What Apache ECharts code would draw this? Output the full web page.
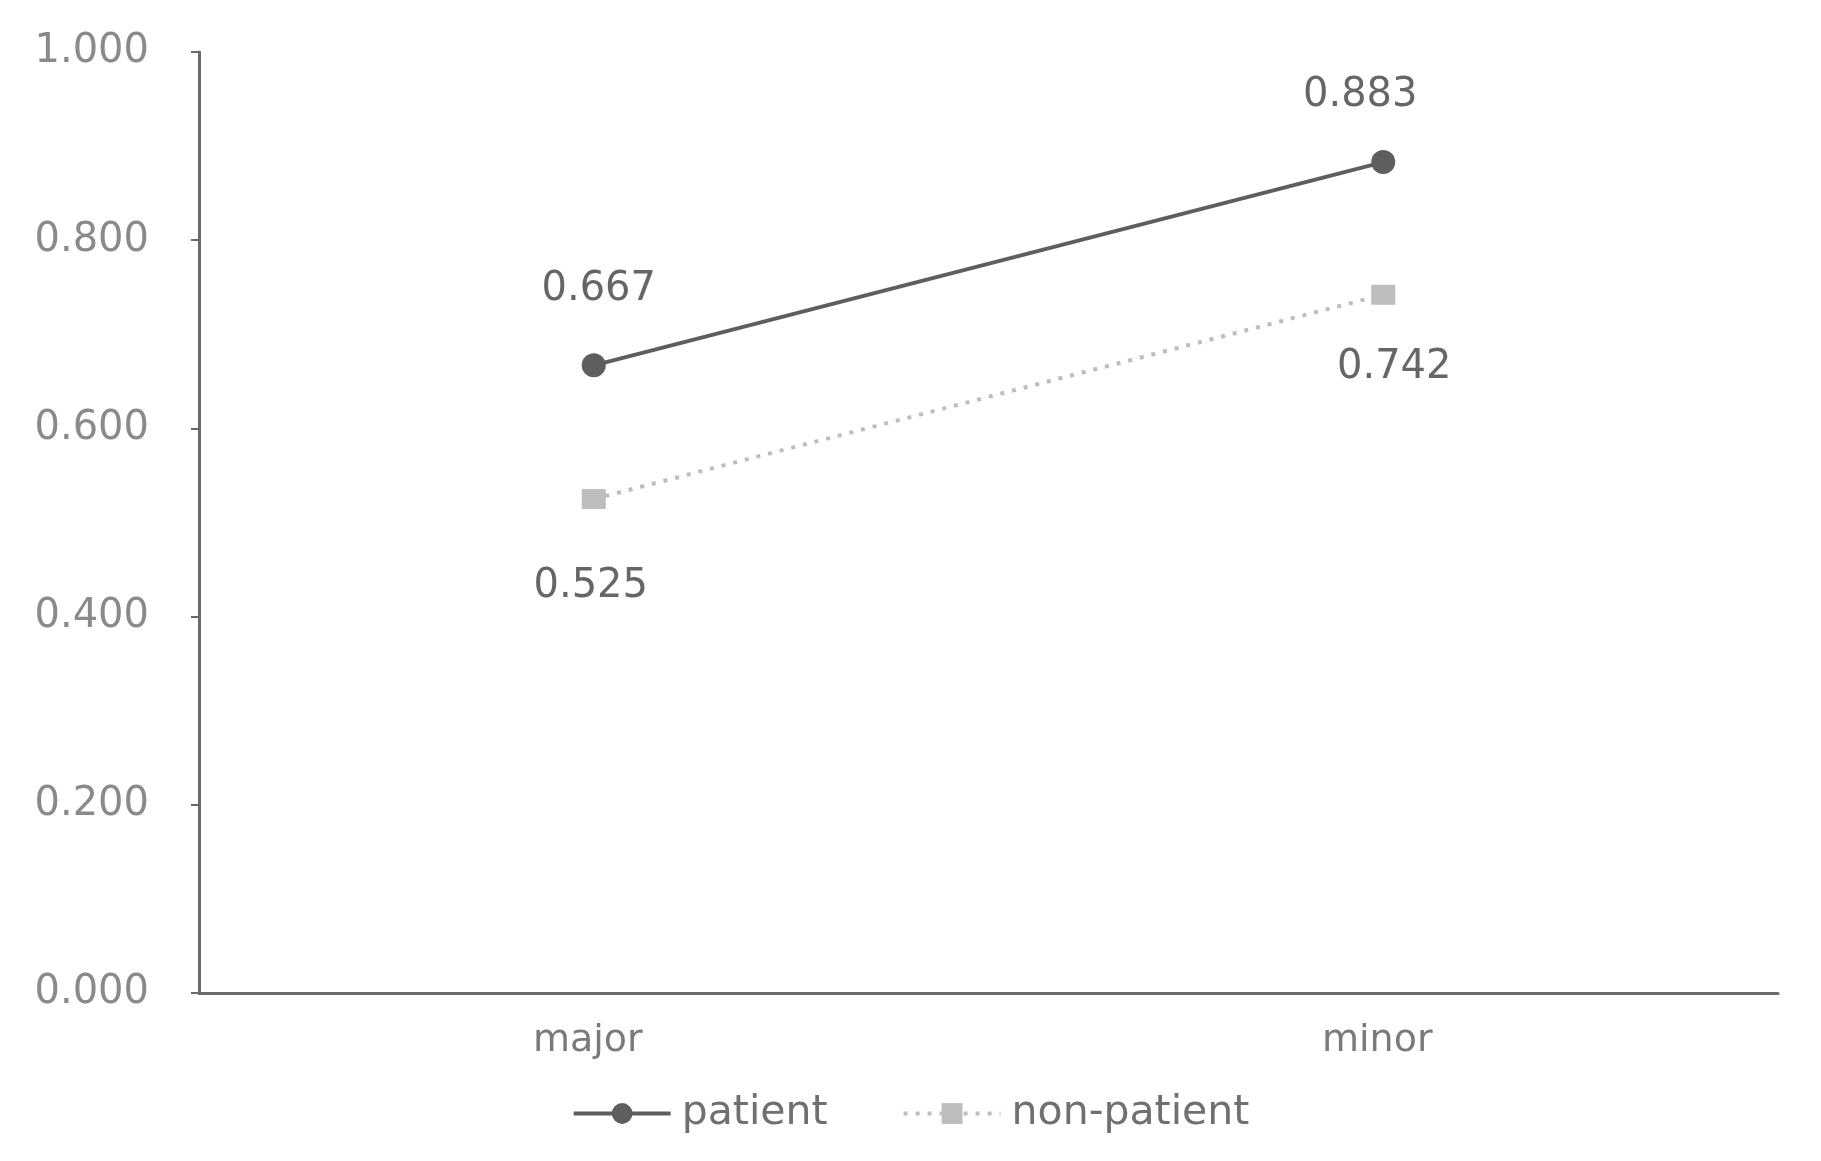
<!DOCTYPE html>
<html><head><meta charset="utf-8">
<script src="https://cdn.jsdelivr.net/npm/echarts@6/dist/echarts.min.js"></script>
<style>html,body{margin:0;padding:0;background:#fff}#c{width:1821px;height:1161px}</style>
</head><body><div id="c"></div>
<script>
const categories = ['major', 'minor'];
const patient = [0.667, 0.883];
const nonPatient = [0.525, 0.742];
const seriesNames = ['patient', 'non-patient'];

const chart = echarts.init(document.getElementById('c'), null, {renderer: 'canvas'});
const font = 'DejaVu Sans';
chart.setOption({
  animation: false,
  backgroundColor: '#fff',
  grid: {left: 199, right: 43, top: 52, bottom: 168, containLabel: false},
  legend: {
    bottom: 22, left: 'center',
    itemWidth: 97, itemHeight: 26, itemGap: 74,
    lineStyle: {width: 4},
    textStyle: {fontFamily: font, fontSize: 41, color: '#707070', padding: [0,0,0,6]},
    data: [{name: seriesNames[0]}, {name: seriesNames[1]}]
  },
  xAxis: {
    type: 'category', data: categories, boundaryGap: true,
    axisLine: {lineStyle: {color: '#6a6a6a', width: 3}},
    axisTick: {show: false},
    axisLabel: {fontFamily: font, fontSize: 38, color: '#7a7a7a', margin: 29, padding: [0, 12, 0, 0]}
  },
  yAxis: {
    type: 'value', min: 0, max: 1, interval: 0.2,
    splitLine: {show: false},
    axisLine: {show: true, lineStyle: {color: '#6a6a6a', width: 3}},
    axisTick: {show: true, length: 8, lineStyle: {color: '#6a6a6a', width: 2}},
    axisLabel: {fontFamily: font, fontSize: 40, color: '#8a8a8a', margin: 50,
      formatter: v => v.toFixed(3)}
  },
  series: [
    {
      name: seriesNames[0], type: 'line', data: patient.map((v, i) => ({
        value: v,
        label: {position: 'top', offset: i === 0 ? [5, -24] : [-23, -14]}
      })),
      symbol: 'circle', symbolSize: 24,
      lineStyle: {color: '#5e5e5e', width: 4},
      itemStyle: {color: '#5e5e5e'},
      label: {show: true, fontFamily: font, fontSize: 40, color: '#666',
        distance: 20, formatter: p => p.value.toFixed(3)}
    },
    {
      name: seriesNames[1], type: 'line', data: nonPatient.map((v, i) => ({
        value: v,
        label: {position: 'bottom', offset: i === 0 ? [-3, 38] : [11, 23]}
      })),
      symbol: 'rect', symbolSize: [24, 20],
      lineStyle: {color: '#bdbdbd', width: 4, type: [4, 8]},
      itemStyle: {color: '#bdbdbd'},
      label: {show: true, fontFamily: font, fontSize: 40, color: '#666',
        distance: 20, formatter: p => p.value.toFixed(3)}
    }
  ]
});
</script></body></html>
